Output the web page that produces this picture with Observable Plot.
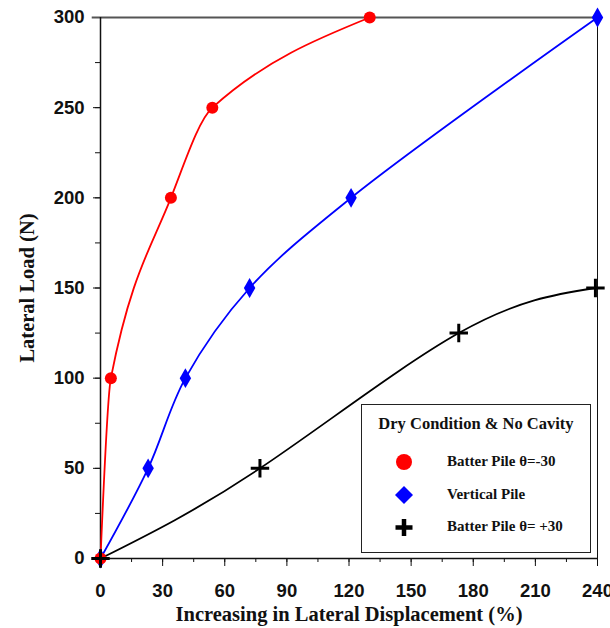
<!DOCTYPE html>
<html><head><meta charset="utf-8">
<script src="https://cdn.jsdelivr.net/npm/d3@7"></script>
<script src="https://cdn.jsdelivr.net/npm/@observablehq/plot@0.6"></script>
<style>
html,body{margin:0;padding:0;background:#fff;}
#wrap{position:relative;width:610px;height:628px;}
#legend{position:absolute;left:361px;top:404px;width:228px;height:147px;border:1.5px solid #222;background:#fff;font-family:"Liberation Serif",serif;font-weight:bold;color:#111;}
#legend .title{position:absolute;left:0;width:100%;top:9px;text-align:center;font-size:16.5px;}
#legend .item{position:absolute;left:0;height:20px;}
#legend .item svg{position:absolute;left:30px;top:0;}
#legend .item span{position:absolute;left:85px;top:1px;font-size:15px;white-space:nowrap;}
</style></head>
<body><div id="wrap"></div>
<script>
const redX = [0, 5, 34, 54, 130];
const redY = [0, 100, 200, 250, 300];
const blueX = [0, 23, 41, 72, 121, 240];
const blueY = [0, 50, 100, 150, 200, 300];
const blackX = [0, 77, 173, 239];
const blackY = [0, 50, 125, 150];
const seriesNames = ["Batter Pile \u03B8=-30", "Vertical Pile", "Batter Pile \u03B8= +30"];
const legendTitle = "Dry Condition & No Cavity";
const xLabel = "Increasing in Lateral Displacement (%)";
const yLabel = "Lateral Load (N)";
const xTicks = [0, 30, 60, 90, 120, 150, 180, 210, 240];
const yTicks = [0, 50, 100, 150, 200, 250, 300];

const red = redX.map((x, i) => ({x, y: redY[i]}));
const blue = blueX.map((x, i) => ({x, y: blueY[i]}));
const black = blackX.map((x, i) => ({x, y: blackY[i]}));
const serif = '"Liberation Serif", "Times New Roman", serif';

// smooth monotone curve (Fritsch-Butland tangents) as a d3 curve factory
function curveSmooth(context) {
  let xs, ys;
  return {
    areaStart() {}, areaEnd() {},
    lineStart() { xs = []; ys = []; },
    point(x, y) { xs.push(+x); ys.push(+y); },
    lineEnd() {
      const n = xs.length;
      if (!n) return;
      context.moveTo(xs[0], ys[0]);
      if (n === 1) return;
      if (n === 2) { context.lineTo(xs[1], ys[1]); return; }
      const h = [], s = [];
      for (let i = 0; i < n - 1; i++) { h[i] = xs[i + 1] - xs[i]; s[i] = (ys[i + 1] - ys[i]) / h[i]; }
      const m = new Array(n);
      for (let i = 1; i < n - 1; i++) m[i] = s[i - 1] * s[i] > 0 ? 2 * s[i - 1] * s[i] / (s[i - 1] + s[i]) : 0;
      m[0] = (3 * s[0] - m[1]) / 2;
      if (m[0] * s[0] < 0) m[0] = 0;
      m[n - 1] = (3 * s[n - 2] - m[n - 2]) / 2;
      if (m[n - 1] * s[n - 2] < 0) m[n - 1] = 0;
      for (let i = 0; i < n - 1; i++) {
        context.bezierCurveTo(xs[i] + h[i] / 3, ys[i] + m[i] * h[i] / 3,
          xs[i + 1] - h[i] / 3, ys[i + 1] - m[i + 1] * h[i] / 3, xs[i + 1], ys[i + 1]);
      }
    }
  };
}

const chart = Plot.plot({
  width: 610, height: 628,
  marginLeft: 100, marginRight: 13, marginTop: 17, marginBottom: 70,
  x: {domain: [0, 240]},
  y: {domain: [0, 300]},
  style: {fontFamily: '"Liberation Sans", Arial, sans-serif', background: "#fff", color: "#111"},
  marks: [
    Plot.axisX({ticks: d3.range(0, 241, 15), tickSize: 4, tickFormat: () => "", label: null, stroke: "#111"}),
    Plot.axisX({ticks: xTicks, tickSize: 8, tickPadding: 17, fontSize: 18.5, fontWeight: "bold", stroke: "#111", label: null}),
    Plot.axisY({ticks: d3.range(0, 301, 25), tickSize: 5, tickFormat: () => "", label: null, stroke: "#111"}),
    Plot.axisY({ticks: yTicks, tickSize: 7, tickPadding: 9, fontSize: 18.5, fontWeight: "bold", stroke: "#111", label: null}),
    Plot.text([xLabel], {text: d => d, frameAnchor: "bottom", lineAnchor: "middle", textAnchor: "middle", dy: 56, fontFamily: serif, fontSize: 20.5, fontWeight: "bold", fill: "#111"}),
    Plot.text([yLabel], {text: d => d, frameAnchor: "left", textAnchor: "middle", lineAnchor: "middle", dx: -73, rotate: -90, fontFamily: serif, fontSize: 20.5, fontWeight: "bold", fill: "#111"}),
    Plot.ruleY([300], {x1: -4, x2: 240, stroke: "#555", strokeWidth: 2, clip: false}),
    Plot.ruleX([240], {stroke: "#111", strokeWidth: 1}),
    Plot.ruleX([0], {stroke: "#111", strokeWidth: 1.5}),
    Plot.ruleY([0], {stroke: "#111", strokeWidth: 1.5}),
    Plot.line(black, {x: "x", y: "y", stroke: "#000", strokeWidth: 1.8, curve: "natural"}),
    Plot.line(blue, {x: "x", y: "y", stroke: "#0000ff", strokeWidth: 1.8, curve: "catmull-rom"}),
    Plot.line(red, {x: "x", y: "y", stroke: "#ff0000", strokeWidth: 1.8, curve: curveSmooth}),
    Plot.dot(blue, {x: "x", y: "y", symbol: "diamond", fill: "#0000ff", r: 6}),
    Plot.dot(red, {x: "x", y: "y", symbol: "circle", fill: "#ff0000", r: 6}),
    Plot.dot(black, {x: "x", y: "y", symbol: "plus", stroke: "#000", strokeWidth: 3, r: 6})
  ]
});
document.getElementById("wrap").appendChild(chart);

const leg = document.createElement("div");
leg.id = "legend";
const tops = [47, 80, 112];
const syms = [
  '<circle cx="12" cy="10" r="8" fill="#ff0000"/>',
  '<path d="M12 1 L21 10 L12 19 L3 10 Z" fill="#0000ff"/>',
  '<path d="M12 2 V19 M3.5 10.5 H20.5" stroke="#000" stroke-width="4.5"/>'
];
let html = `<div class="title">${legendTitle}</div>`;
seriesNames.forEach((n, i) => {
  html += `<div class="item" style="top:${tops[i]}px"><svg width="24" height="21">${syms[i]}</svg><span>${n}</span></div>`;
});
leg.innerHTML = html;
document.getElementById("wrap").appendChild(leg);
</script></body></html>
